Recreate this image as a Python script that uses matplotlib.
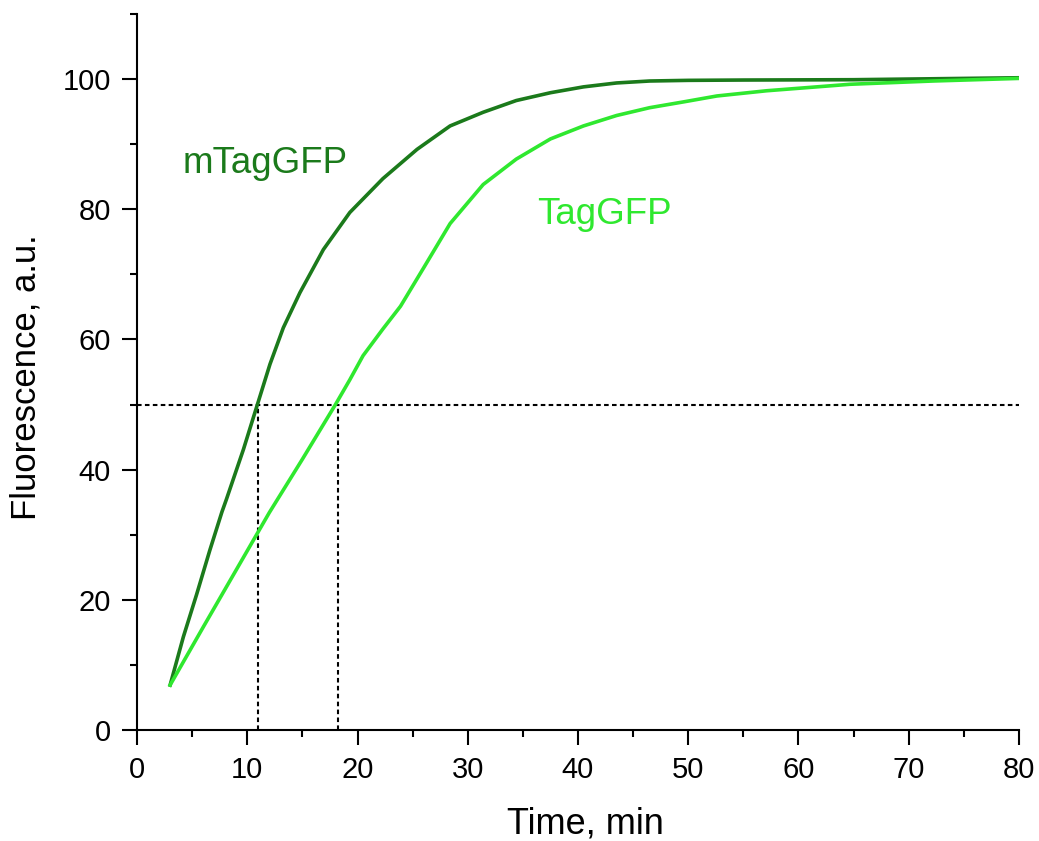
import matplotlib
matplotlib.use("Agg")
import matplotlib.pyplot as plt
from matplotlib.ticker import MultipleLocator

plt.rcParams['font.family'] = ['Liberation Sans', 'DejaVu Sans']

# mTagGFP (dark green)
m_time = [3, 4.2, 5.4, 6.6, 7.7, 8.1, 9.65, 10.9, 12.06, 13.27, 14.78, 16.9, 19.3,
          22.3, 25.4, 28.4, 31.4, 34.4, 37.5, 40.5, 43.5, 46.5, 50, 55, 65, 80]
m_fluor = [6.9, 14.3, 20.8, 27.6, 33.5, 35.4, 43.1, 49.9, 56.2, 61.8, 67.2, 73.8, 79.5,
           84.7, 89.2, 92.8, 94.9, 96.7, 97.9, 98.8, 99.4, 99.7, 99.8, 99.85, 99.9, 100.2]

# TagGFP (bright green)
t_time = [3, 6, 9, 12, 15, 18, 19.3, 20.5, 22.3, 23.9, 26, 28.4, 31.4,
          34.4, 37.5, 40.5, 43.5, 46.5, 49.6, 52.6, 57.1, 64.7, 72.2, 80]
t_fluor = [6.9, 15.8, 24.6, 33.4, 41.6, 50, 53.8, 57.5, 61.6, 65.1, 71.0, 77.8, 83.8,
           87.7, 90.8, 92.8, 94.4, 95.6, 96.5, 97.4, 98.2, 99.2, 99.7, 100.1]

half_level = 50
half_times = [11, 18.2]

dark = '#1b7a1b'
light = '#2fe82f'

fig = plt.figure(figsize=(10.39, 8.41), dpi=100)
ax = fig.add_axes([0.1319, 0.1320, 0.8488, 0.8514])

ax.plot(m_time, m_fluor, color=dark, lw=2.6, solid_joinstyle='round', zorder=3)
ax.plot(t_time, t_fluor, color=light, lw=2.6, solid_joinstyle='round', zorder=3)

dash = (0, (2.2, 1.6))
ax.plot([0, 80], [half_level, half_level], color='black', lw=1.5, linestyle=dash, zorder=2)
for t in half_times:
    ax.plot([t, t], [0, half_level], color='black', lw=1.5, linestyle=dash, zorder=2)

ax.text(4.15, 85.6, 'mTagGFP', color=dark, fontsize=26.5, ha='left', va='baseline')
ax.text(36.25, 77.7, 'TagGFP', color=light, fontsize=26.5, ha='left', va='baseline')

ax.set_xlim(0, 80)
ax.set_ylim(0, 110)
ax.xaxis.set_major_locator(MultipleLocator(10))
ax.xaxis.set_minor_locator(MultipleLocator(5))
ax.yaxis.set_major_locator(MultipleLocator(20))
ax.yaxis.set_minor_locator(MultipleLocator(10))

for s in ['top', 'right']:
    ax.spines[s].set_visible(False)
for s in ['left', 'bottom']:
    ax.spines[s].set_linewidth(1.5)

ax.tick_params(which='major', direction='out', length=10.8, width=1.5, labelsize=21, pad=8)
ax.tick_params(which='minor', direction='out', length=5, width=1.5)

ax.set_xlabel('Time, min', fontsize=26)
ax.set_ylabel('Fluorescence, a.u.', fontsize=25)
ax.xaxis.set_label_coords(0.508, -0.1075)
ax.yaxis.set_label_coords(-0.1077, 0.493)

for spine in ax.spines.values():
    spine.set_clip_on(False)

fig.savefig('out.png', dpi=100)
